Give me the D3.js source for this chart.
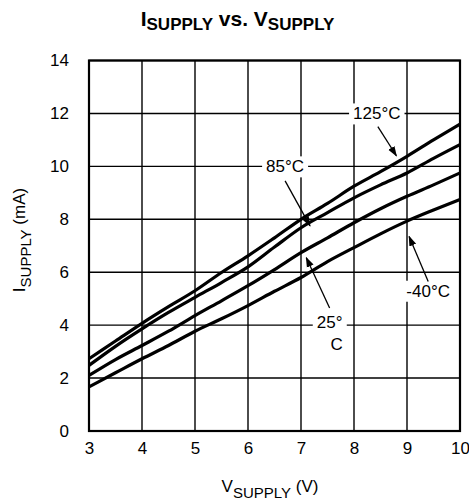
<!DOCTYPE html>
<html>
<head>
<meta charset="utf-8">
<script src="https://cdn.jsdelivr.net/npm/d3@7"></script>
<style>
  body { margin: 0; background: #fff; }
  text { font-family: "Liberation Sans", Arial, sans-serif; fill: #000; }
</style>
</head>
<body>
<div id="chart"></div>
<script>
// supply voltage (V)
var vSupply = [3, 3.5, 4, 4.5, 5, 5.5, 6, 6.5, 7, 7.5, 8, 8.5, 9, 9.5, 10];
// supply current (mA) per temperature
var i125 = [2.73, 3.4, 4.07, 4.7, 5.3, 5.99, 6.62, 7.3, 8.0, 8.6, 9.25, 9.8, 10.38, 11.0, 11.6];
var i85 = [2.48, 3.2, 3.86, 4.48, 5.05, 5.61, 6.2, 6.95, 7.68, 8.25, 8.81, 9.3, 9.75, 10.3, 10.82];
var i25 = [2.1, 2.7, 3.23, 3.77, 4.36, 4.92, 5.49, 6.1, 6.74, 7.3, 7.87, 8.4, 8.87, 9.3, 9.75];
var iM40 = [1.67, 2.2, 2.73, 3.23, 3.77, 4.24, 4.74, 5.28, 5.8, 6.4, 6.93, 7.45, 7.93, 8.35, 8.75];
var xTicks = [3, 4, 5, 6, 7, 8, 9, 10];
var yTicks = [0, 2, 4, 6, 8, 10, 12, 14];

var W = 469, H = 504;
var margin = {top: 60.5, right: 9, bottom: 73, left: 89};
var width = W - margin.left - margin.right,
    height = H - margin.top - margin.bottom;

var svg = d3.select("#chart").append("svg")
    .attr("width", W)
    .attr("height", H);

svg.append("defs").append("marker")
  .attr("id", "arr")
  .attr("viewBox", "0 0 10 10")
  .attr("refX", 9).attr("refY", 5)
  .attr("markerWidth", 8).attr("markerHeight", 8)
  .attr("orient", "auto")
  .append("path")
    .attr("d", "M0,1.5 L10,5 L0,8.5 Z")
    .attr("fill", "#000");

var g = svg.append("g")
    .attr("transform", "translate(" + margin.left + "," + margin.top + ")");

var x = d3.scaleLinear().domain([3, 10]).range([0, width]);
var y = d3.scaleLinear().domain([0, 14]).range([height, 0]);

// grid
g.append("g")
  .selectAll("line")
  .data(xTicks)
  .enter().append("line")
    .attr("x1", d => x(d)).attr("x2", d => x(d))
    .attr("y1", 0).attr("y2", height)
    .attr("stroke", "#000").attr("stroke-width", 1.4);
g.append("g")
  .selectAll("line")
  .data(yTicks)
  .enter().append("line")
    .attr("x1", 0).attr("x2", width)
    .attr("y1", d => y(d)).attr("y2", d => y(d))
    .attr("stroke", "#000").attr("stroke-width", 1.4);

g.append("rect")
  .attr("width", width).attr("height", height)
  .attr("fill", "none").attr("stroke", "#000").attr("stroke-width", 2.2);

// tick labels
var yAxis = d3.axisLeft(y).tickValues(yTicks).tickFormat(d3.format("d")).tickSize(0).tickPadding(20);
g.append("g").call(yAxis)
  .call(a => a.select(".domain").remove())
  .selectAll("text")
    .style("font-size", "17px")
    .style("font-family", "Liberation Sans, Arial, sans-serif");

var xAxis = d3.axisBottom(x).tickValues(xTicks).tickFormat(d3.format("d")).tickSize(0).tickPadding(11);
g.append("g")
  .attr("transform", "translate(0," + height + ")")
  .call(xAxis)
  .call(a => a.select(".domain").remove())
  .selectAll("text")
    .style("font-size", "17px")
    .style("font-family", "Liberation Sans, Arial, sans-serif");

// curves
var series = [i125, i85, i25, iM40];
var line = d3.line()
  .x((d, i) => x(vSupply[i]))
  .y(d => y(d))
  .curve(d3.curveMonotoneX);

g.append("g")
  .selectAll("path")
  .data(series)
  .enter().append("path")
    .attr("d", line)
    .attr("fill", "none")
    .attr("stroke", "#000")
    .attr("stroke-width", 3.2)
    .attr("stroke-linejoin", "round");

// annotations: label pos in data units, arrow from/to in data units
var notes = [
  {lines: ["125°C"], lx: 8.43, ly: 12, from: [8.45, 11.5], to: [8.8, 10.4]},
  {lines: ["85°C"], lx: 6.7, ly: 10, from: [6.7, 9.45], to: [7.17, 7.75]},
  {lines: ["25°", "C"], lx: 7.54, ly: 4.1, from: [7.54, 4.65], to: [7.1, 6.55]},
  {lines: ["-40°C"], lx: 9.4, ly: 5.3, from: [9.4, 5.65], to: [9.04, 7.35]}
];

notes.forEach(function(n) {
  var ng = g.append("g");
  var bg = ng.append("rect").attr("fill", "#fff");
  var t = ng.append("text")
    .attr("text-anchor", "middle")
    .style("font-size", "17px");
  n.lines.forEach(function(s, k) {
    t.append("tspan")
      .attr("x", x(n.lx) + (k > 0 ? 7 : 0))
      .attr("y", y(n.ly) + 6 + k * 22)
      .text(s);
  });
  var b = t.node().getBBox();
  bg.attr("x", b.x - 4).attr("y", b.y - 1)
    .attr("width", b.width + 8).attr("height", b.height + 2);
  ng.append("line")
    .attr("x1", x(n.from[0])).attr("y1", y(n.from[1]))
    .attr("x2", x(n.to[0])).attr("y2", y(n.to[1]))
    .attr("stroke", "#000").attr("stroke-width", 1.3)
    .attr("marker-end", "url(#arr)");
});

// title
var title = svg.append("text")
  .attr("x", W / 2 + 3).attr("y", 26)
  .attr("text-anchor", "middle")
  .style("font-weight", "bold")
  .style("font-size", "21px");
title.append("tspan").text("I");
title.append("tspan").attr("dy", 4).style("font-size", "17px").text("SUPPLY");
title.append("tspan").attr("dy", -4).text(" vs. V");
title.append("tspan").attr("dy", 4).style("font-size", "17px").text("SUPPLY");

// axis titles
var xt = svg.append("text")
  .attr("x", 270).attr("y", 492)
  .attr("text-anchor", "middle")
  .style("font-size", "17px");
xt.append("tspan").text("V");
xt.append("tspan").attr("dy", 6).style("font-size", "15px").text("SUPPLY");
xt.append("tspan").attr("dy", -6).text(" (V)");

var yt = svg.append("text")
  .attr("transform", "translate(25,240) rotate(-90)")
  .attr("text-anchor", "middle")
  .style("font-size", "17px");
yt.append("tspan").text("I");
yt.append("tspan").attr("dy", 6).style("font-size", "15px").text("SUPPLY");
yt.append("tspan").attr("dy", -6).text(" (mA)");
</script>
</body>
</html>
